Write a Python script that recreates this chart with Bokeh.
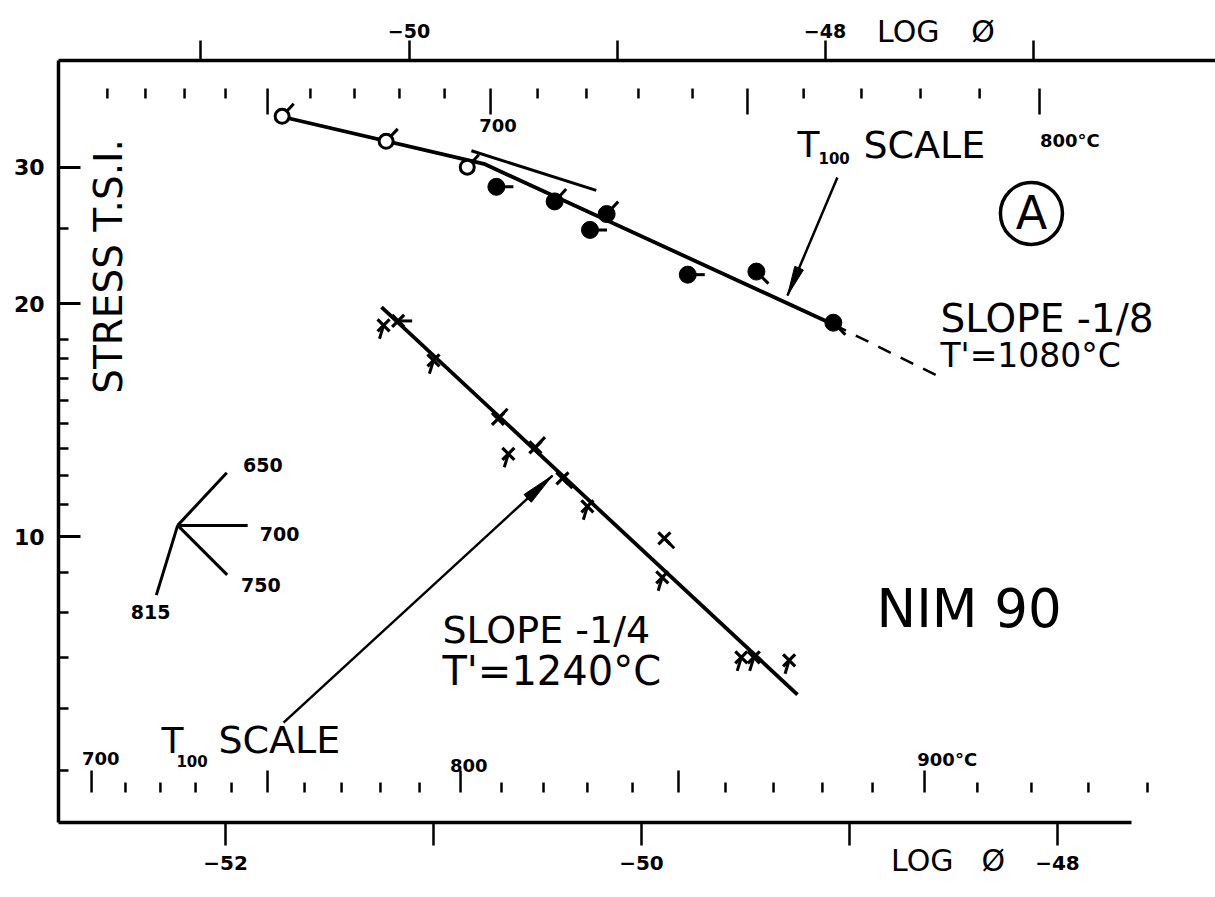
from bokeh.plotting import figure
from bokeh.models import (Range1d, LinearAxis, LogAxis, FixedTicker, Label, Arrow,
                          ColumnDataSource)
from bokeh.embed import file_html
from bokeh.resources import INLINE

# ---- data -------------------------------------------------------------
# Upper series (plotted against the upper log-phi scale)
upper_logphi = [-50.61, -50.11, -49.72, -49.58, -49.30, -49.05, -49.13, -48.66, -48.33, -47.96]
upper_stress = [34.9, 32.4, 30.0, 28.3, 27.1, 26.1, 24.9, 21.8, 22.0, 18.9]
upper_temp = [650, 650, 650, 700, 650, 650, 700, 700, 750, 750]
upper_kind = ["open", "open", "open", "solid", "solid", "solid", "solid", "solid", "solid", "solid"]

upper_fit_logphi = [-50.60, -49.64, -47.96]
upper_fit_stress = [34.8, 30.3, 18.8]
upper_ext_logphi = [-47.96, -47.43]
upper_ext_stress = [18.8, 16.0]
upper_tangent_logphi = [-49.70, -49.10]
upper_tangent_stress = [31.5, 28.0]

# Lower series (plotted against the lower log-phi scale)
lower_logphi = [-51.24, -51.17, -51.00, -50.69, -50.64, -50.51, -50.38, -50.26,
                -49.89, -49.90, -49.52, -49.46, -49.29]
lower_stress = [18.75, 19.0, 16.9, 14.2, 12.8, 13.05, 11.9, 10.95, 9.96, 8.87, 6.99, 6.99, 6.93]
lower_temp = [815, 700, 815, 650, 815, 650, 750, 815, 750, 815, 815, 815, 815]

lower_fit_logphi = [-51.25, -49.25]
lower_fit_stress = [19.8, 6.26]

# T100 temperature scales drawn inside the frame
t100_upper_temp = [610, 620, 630, 640, 650, 660, 670, 680, 690, 700,
                   710, 720, 730, 740, 750, 760, 770, 780, 790, 800]
t100_upper_logphi = [-51.450, -51.267, -51.079, -50.882, -50.680, -50.474, -50.262, -50.046,
                     -49.829, -49.608, -49.382, -49.147, -48.897, -48.637, -48.373, -48.103,
                     -47.825, -47.541, -47.257, -46.969]
t100_lower_temp = [700, 710, 720, 730, 740, 750, 760, 770, 780, 790, 800, 810, 820,
                   830, 840, 850, 860, 870, 880, 890, 900, 910, 920, 930, 940]
t100_lower_logphi = [-52.644, -52.481, -52.313, -52.144, -51.971, -51.798, -51.620, -51.442,
                     -51.255, -51.067, -50.870, -50.673, -50.471, -50.260, -50.043, -49.822,
                     -49.596, -49.365, -49.130, -48.889, -48.639, -48.385, -48.125, -47.851,
                     -47.567]

stress_major = [10, 20, 30]
stress_minor = [5, 6, 7, 8, 9, 11, 12, 13, 14, 15, 16, 17, 18, 25]
logphi_lower_ticks = [-52, -51, -50, -49, -48]
logphi_upper_ticks = [-51, -50, -49, -48, -47]

# temperature key: direction of the tail drawn on each point
key_temp = [650, 700, 750, 815]
TAIL_DEG = {650: 47, 700: 0, 750: -45, 815: -107}

FONT = "DejaVu Sans"
INK = "black"

# ---- figure -----------------------------------------------------------
p = figure(width=1215, height=897, output_backend="svg", toolbar_location=None,
           x_range=Range1d(-52.803, -47.240), y_range=Range1d(4.281, 41.19),
           y_axis_type="log", x_axis_location=None, y_axis_location=None,
           min_border_left=58, min_border_right=0, min_border_top=60, min_border_bottom=75)
p.extra_x_ranges = {"top": Range1d(-51.685, -46.123)}
p.outline_line_color = None
p.grid.visible = False
p.background_fill_color = "white"
p.border_fill_color = "white"


def style_axis(ax, size, style="bold"):
    ax.axis_line_color = INK
    ax.axis_line_width = 3.5
    ax.major_tick_line_color = INK
    ax.major_label_text_color = INK
    ax.major_label_text_font = FONT
    ax.major_label_text_font_style = style
    ax.major_label_text_font_size = size


def title_axis(ax):
    # an axis that only carries the "LOG Ø" caption beside the tick labels
    ax.axis_line_color = None
    ax.major_tick_line_color = None
    ax.minor_tick_line_color = None
    ax.major_tick_out = 0
    ax.major_tick_in = 0


yax = LogAxis(ticker=FixedTicker(ticks=stress_major, minor_ticks=stress_minor))
style_axis(yax, "22px")
yax.major_tick_in = 22
yax.major_tick_out = 0
yax.minor_tick_in = 10
yax.minor_tick_out = 0
yax.major_tick_line_width = 3
yax.minor_tick_line_width = 2.5
yax.minor_tick_line_color = INK
yax.major_label_standoff = 14
yax.major_label_orientation = "horizontal"
p.add_layout(yax, "left")

bax = LinearAxis(ticker=FixedTicker(ticks=logphi_lower_ticks))
style_axis(bax, "20px")
bax.bounds = (-52.803, -47.644)
bax.major_tick_out = 23
bax.major_tick_in = 0
bax.major_tick_line_width = 2.5
bax.minor_tick_line_color = None
bax.major_label_overrides = {-51: "", -49: ""}
bax.major_label_standoff = 10
p.add_layout(bax, "below")

btitle = LinearAxis(ticker=FixedTicker(ticks=[-48.650, -48.308]))
style_axis(btitle, "30px", style="normal")
title_axis(btitle)
btitle.major_label_overrides = {-48.650: "LOG", -48.308: "Ø"}
btitle.major_label_standoff = -30
p.add_layout(btitle, "below")

tax = LinearAxis(x_range_name="top", ticker=FixedTicker(ticks=logphi_upper_ticks))
style_axis(tax, "19px")
tax.major_tick_out = 20
tax.major_tick_in = 0
tax.major_tick_line_width = 2.5
tax.minor_tick_line_color = None
tax.major_label_overrides = {-51: "", -49: "", -47: ""}
tax.major_label_standoff = 3
p.add_layout(tax, "above")

ttitle = LinearAxis(x_range_name="top", ticker=FixedTicker(ticks=[-47.600, -47.240]))
style_axis(ttitle, "30px", style="normal")
title_axis(ttitle)
ttitle.major_label_overrides = {-47.600: "LOG", -47.240: "Ø"}
ttitle.major_label_standoff = -28
p.add_layout(ttitle, "above")

# ---- T100 scales ------------------------------------------------------
up_len = [26 if t % 50 == 0 else 10 for t in t100_upper_temp]
p.ray(x=t100_upper_logphi, y=[37.9] * len(t100_upper_temp), length=up_len,
      length_units="screen", angle=-90, angle_units="deg", line_color=INK,
      line_width=2.5, x_range_name="top")
lo_len = [22 if t % 50 == 0 else 10 for t in t100_lower_temp]
p.ray(x=t100_lower_logphi, y=[4.68] * len(t100_lower_temp), length=lo_len,
      length_units="screen", angle=90, angle_units="deg", line_color=INK,
      line_width=2.5)

# ---- upper series -----------------------------------------------------
p.line(upper_fit_logphi, upper_fit_stress, x_range_name="top", line_color=INK, line_width=3.8)
p.line(upper_ext_logphi, upper_ext_stress, x_range_name="top", line_color=INK,
       line_width=2.5, line_dash="14 11")
p.line(upper_tangent_logphi, upper_tangent_stress, x_range_name="top", line_color=INK,
       line_width=3)

up_src = ColumnDataSource(dict(x=upper_logphi, y=upper_stress,
                               ang=[TAIL_DEG[t] for t in upper_temp], kind=upper_kind))
p.ray(x="x", y="y", length=17, length_units="screen", angle="ang", angle_units="deg",
      line_color=INK, line_width=3, source=up_src, x_range_name="top")
open_idx = [i for i, k in enumerate(upper_kind) if k == "open"]
solid_idx = [i for i, k in enumerate(upper_kind) if k == "solid"]
p.scatter([upper_logphi[i] for i in open_idx], [upper_stress[i] for i in open_idx],
          marker="circle", size=14, fill_color="white", line_color=INK, line_width=3,
          x_range_name="top")
p.scatter([upper_logphi[i] for i in solid_idx], [upper_stress[i] for i in solid_idx],
          marker="circle", size=17, fill_color=INK, line_color=INK,
          x_range_name="top")

# ---- lower series -----------------------------------------------------
p.line(lower_fit_logphi, lower_fit_stress, line_color=INK, line_width=3.8)
lo_src = ColumnDataSource(dict(x=lower_logphi, y=lower_stress,
                               ang=[TAIL_DEG[t] for t in lower_temp]))
p.ray(x="x", y="y", length=14, length_units="screen", angle="ang", angle_units="deg",
      line_color=INK, line_width=3, source=lo_src)
p.scatter("x", "y", marker="x", size=17, line_color=INK, line_width=3.2, source=lo_src)

# ---- temperature key --------------------------------------------------
key_src = ColumnDataSource(dict(x=[-52.23] * 4, y=[10.35] * 4,
                                ang=[TAIL_DEG[t] for t in key_temp],
                                ln=[72, 70, 70, 73]))
p.ray(x="x", y="y", length="ln", length_units="screen", angle="ang", angle_units="deg",
      line_color=INK, line_width=3, source=key_src)
key_label_x = [-51.82, -51.74, -51.83, -52.36]
key_label_y = [12.37, 10.10, 8.66, 7.99]
for t, lx, ly in zip(key_temp, key_label_x, key_label_y):
    p.add_layout(Label(x=lx, y=ly, text=str(t), text_font=FONT, text_font_style="bold",
                       text_font_size="19px", text_align="center", text_baseline="middle",
                       text_color=INK))


# ---- annotations ------------------------------------------------------
def lab(x, y, text, size, align="left", style="normal", angle=0):
    p.add_layout(Label(x=x, y=y, text=text, text_font=FONT, text_font_size=size,
                       text_font_style=style, text_align=align, text_baseline="middle",
                       text_color=INK, angle=angle))


def pointer(x0, y0, x1, y1, back_deg, head_len, half_deg):
    # shaft plus a long, narrow filled head whose tip sits at (x1, y1)
    p.add_layout(Arrow(x_start=x0, y_start=y0, x_end=x1, y_end=y1,
                       line_width=2.5, line_color=INK, end=None))
    p.wedge(x=[x1], y=[y1], radius=head_len, radius_units="screen",
            start_angle=back_deg - half_deg, end_angle=back_deg + half_deg,
            start_angle_units="deg", end_angle_units="deg",
            fill_color=INK, line_color=INK, line_width=1)


lab(-52.5625, 22.34, "STRESS T.S.I.", "39px", align="center", angle=1.5708)

# T100 scale labels
lab(-50.69, 33.96, "700", "18px", align="center", style="bold")
lab(-47.94, 32.48, "800°C", "18px", align="center", style="bold")
lab(-52.60, 5.178, "700", "18px", align="center", style="bold")
lab(-50.83, 5.072, "800", "18px", align="center", style="bold")
lab(-48.53, 5.163, "900°C", "18px", align="center", style="bold")

lab(-49.250, 32.09, "T", "36px")
lab(-49.149, 30.79, "100", "15px", style="bold")
lab(-48.933, 32.09, "SCALE", "38px")
pointer(-49.058, 29.09, -49.298, 20.49, back_deg=67, head_len=30, half_deg=9)

lab(-52.308, 5.463, "T", "36px")
lab(-52.236, 5.132, "100", "15px", style="bold")
lab(-52.034, 5.463, "SCALE", "38px")
pointer(-51.721, 5.76, -50.428, 12.0, back_deg=222.6, head_len=34, half_deg=9)

lab(-48.5625, 19.14, "SLOPE -1/8", "39px")
lab(-48.5625, 17.15, "T'=1080°C", "33px")
lab(-50.957, 7.575, "SLOPE -1/4", "38px")
lab(-50.957, 6.706, "T'=1240°C", "40px")
lab(-48.870, 8.085, "NIM 90", "53px")

p.scatter([-48.125], [26.15], marker="circle", size=62, fill_color=None,
          line_color=INK, line_width=3.5)
lab(-48.125, 26.15, "A", "46px", align="center")

open("out.html", "w").write(file_html(p, INLINE))
